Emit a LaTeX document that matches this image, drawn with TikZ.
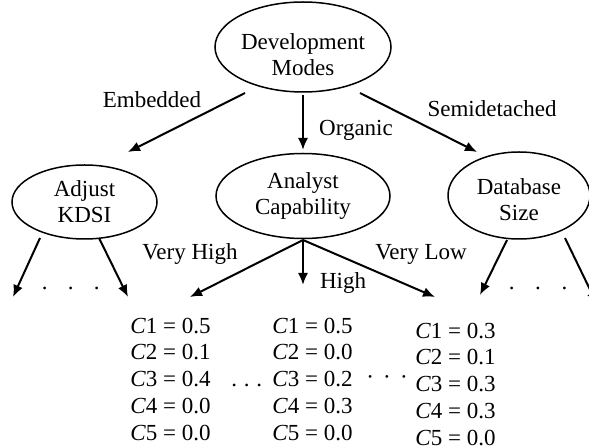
\documentclass[tikz,border=0pt]{standalone}
\usepackage{fontspec}
\setmainfont{Liberation Serif}
\usetikzlibrary{arrows.meta,shapes.geometric}
\tikzset{
  txt/.style={font=\fontsize{11.5}{13}\selectfont},
  mode/.style={ellipse, draw, line width=0.75pt, inner sep=0pt, align=center, txt},
  inside/.style={txt, inner sep=0pt, align=center},
  conn/.style={-{Latex[length=6pt,width=5pt]}, line width=1pt},
  lbl/.style={txt, inner sep=0pt},
  val/.style={txt, inner sep=0pt, anchor=base west},
  gap/.style={txt, inner sep=0pt, anchor=base west}
}
\begin{document}
\begin{tikzpicture}[x=0.5pt,y=-0.5pt]
\useasboundingbox (0,0) rectangle (589,448);
\clip (0,0) rectangle (589,448);

% tree nodes
\node[mode, minimum width=88pt, minimum height=45pt] (dev) at (303,47) {};
\node[inside] (devtxt) at (303,55) {Development\\Modes};
\node[mode, minimum width=72.5pt, minimum height=37pt] (adj) at (84.5,202) {Adjust\\KDSI};
\node[mode, minimum width=87pt, minimum height=42.5pt] (ana) at (303,196) {Analyst\\Capability};
\node[mode, minimum width=71pt, minimum height=43.5pt] (db) at (519,195.5) {};
\node[inside] (dbtxt) at (519,200) {Database\\Size};

% edges from the root
\draw[conn] ([shift={(-58,46)}]dev.center) -- ([shift={(43.5,-50)}]adj.center);
\draw[conn] ([shift={(0,48)}]dev.center) -- ([shift={(0,-46)}]ana.center);
\draw[conn] ([shift={(57,46)}]dev.center) -- ([shift={(-42,-43.5)}]db.center);
\node[lbl] (lemb) at (152,100) {Embedded};
\node[lbl] (lorg) at (356,130) {Organic};
\node[lbl] (lsemi) at (492,109) {Semidetached};

% open ends below the subtrees
\coordinate (adjL) at (13,297);
\coordinate (adjR) at (128,297);
\coordinate (vh) at (190,297);
\coordinate (hi) at (303,285);
\coordinate (vl) at (435,297);
\coordinate (dbL) at (480,295);
\coordinate (dbR) at (597,304);

\draw[conn] ([shift={(-44.5,36)}]adj.center) -- (adjL);
\draw[conn] ([shift={(14.5,36)}]adj.center) -- (adjR);
\draw[conn] ([shift={(0,44)}]ana.center) -- (vh);
\draw[conn] ([shift={(0,44)}]ana.center) -- (hi);
\draw[conn] ([shift={(0,44)}]ana.center) -- (vl);
\draw[conn] ([shift={(-12,44.5)}]db.center) -- (dbL);
\draw[conn] ([shift={(46,42.5)}]db.center) -- (dbR);

\node[lbl] (lvh) at (190,254) {Very High};
\node[lbl] (lhi) at (343,283) {High};
\node[lbl] (lvl) at (421,254) {Very Low};

% elided branches
\node[gap] (adjdots) at (41.5,290) {.\hspace{10.1pt}.\hspace{10.1pt}.};
\node[gap] (dbdots) at (508.5,290) {.\hspace{10.3pt}.\hspace{10.3pt}.\hspace{10.3pt}.};

% leaf values
\foreach \v [count=\i] in {0.5,0.1,0.4,0.0,0.0}
  \node[val] (a\i) at (130,{333.3+26.7*(\i-1)}) {\textit{C}\i{} = \v};
\foreach \v [count=\i] in {0.5,0.0,0.2,0.3,0.0}
  \node[val] (b\i) at (272,{333.3+26.7*(\i-1)}) {\textit{C}\i{} = \v};
\foreach \v [count=\i] in {0.3,0.1,0.3,0.3,0.0}
  \node[val] (c\i) at (415,{338.3+26.7*(\i-1)}) {\textit{C}\i{} = \v};

\node[gap] (ell1) at (231,387) {.\hspace{3.4pt}.\hspace{3.4pt}.};
\node[txt, inner sep=0pt] (ell2) at (387,380) {·\hspace{4.6pt}·\hspace{4.6pt}·};
\end{tikzpicture}
\end{document}
